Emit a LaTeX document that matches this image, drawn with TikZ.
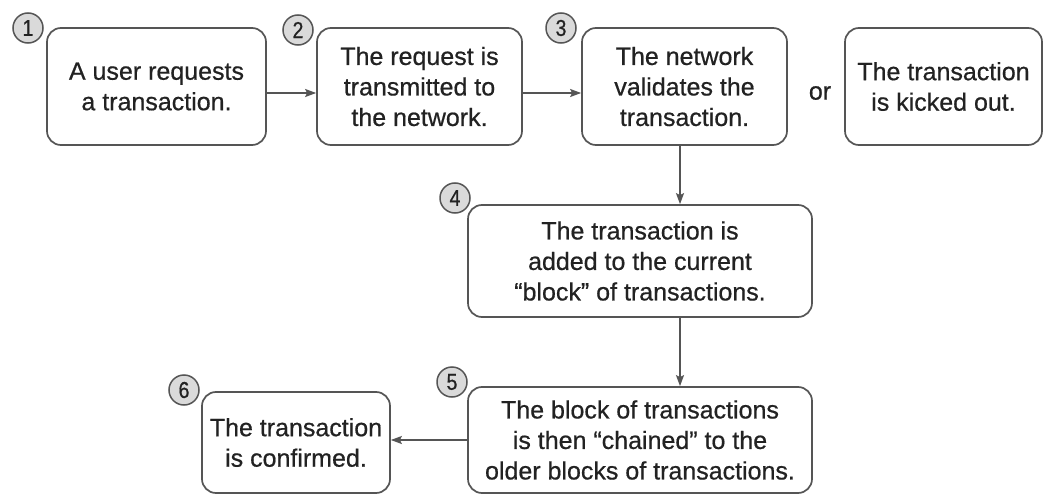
\documentclass[tikz,border=0pt]{standalone}
\usepackage{fontspec}
\setmainfont{Liberation Sans}
\newfontfamily\boxfont[FakeBold=0.6]{Liberation Sans}
\newfontfamily\numfont[FakeStretch=0.85,FakeBold=0.6]{Liberation Sans}
\usetikzlibrary{arrows.meta}
\definecolor{linegray}{HTML}{555555}
\definecolor{txt}{HTML}{222222}
\definecolor{circfill}{HTML}{DADADA}
\tikzset{
  stepbox/.style={draw=linegray, line width=1.7pt, rounded corners=14pt, fill=white,
    align=center, inner sep=0pt, text=txt, font=\boxfont\fontsize{25}{30.5}\selectfont},
  numc/.style={circle, draw=linegray, line width=1.5pt, fill=circfill, minimum size=30pt,
    inner sep=0pt, text=txt, font=\numfont\fontsize{23}{23}\selectfont},
  conn/.style={draw=linegray, line width=1.5pt, -{Stealth[length=11pt,width=8pt,inset=2pt]}},
  plain/.style={text=txt, font=\boxfont\fontsize{25}{30}\selectfont, inner sep=0pt}
}
\begin{document}
\begin{tikzpicture}[x=1pt,y=-1pt]
\useasboundingbox[fill=white] (0,0) rectangle (1045,495);
% boxes
\node[stepbox, minimum width=219pt, minimum height=117pt] (b1) at (156.5,86.5) {A user requests\\a transaction.};
\node[stepbox, minimum width=205pt, minimum height=117pt] (b2) at (419.5,86.5) {The request is\\transmitted to\\the network.};
\node[stepbox, minimum width=205pt, minimum height=117pt] (b3) at (684.5,86.5) {The network\\validates the\\transaction.};
\node[stepbox, minimum width=197pt, minimum height=117pt] (bk) at (943.5,86.5) {The transaction\\is kicked out.};
\node[plain] (or) at (820,93) {or};
\node[stepbox, minimum width=344pt, minimum height=112pt] (b4) at (640,261) {The transaction is\\added to the current\\“block” of transactions.};
\node[stepbox, minimum width=344pt, minimum height=106pt] (b5) at (640,440) {The block of transactions\\is then “chained” to the\\older blocks of transactions.};
\node[stepbox, minimum width=188pt, minimum height=101pt] (b6) at (296,442.5) {The transaction\\is confirmed.};
% number circles
\node[numc] (n1) at (28,28) {1};
\node[numc] (n2) at (298,30) {2};
\node[numc] (n3) at (561,28) {3};
\node[numc] (n4) at (455,198) {4};
\node[numc] (n5) at (452,382) {5};
\node[numc] (n6) at (184,390) {6};
% connectors
\draw[conn] ([yshift=-6.5pt]b1.east) -- ([yshift=-6.5pt]b2.west);
\draw[conn] ([yshift=-6.5pt]b2.east) -- ([yshift=-6.5pt]b3.west);
\draw[conn] ([xshift=-4.5pt]b3.south) -- ([xshift=-4.5pt]b3.south |- b4.north);
\draw[conn] ([xshift=40pt]b4.south) -- ([xshift=40pt]b5.north);
\draw[conn] (b5.west) -- (b5.west -| b6.east);
\end{tikzpicture}
\end{document}
